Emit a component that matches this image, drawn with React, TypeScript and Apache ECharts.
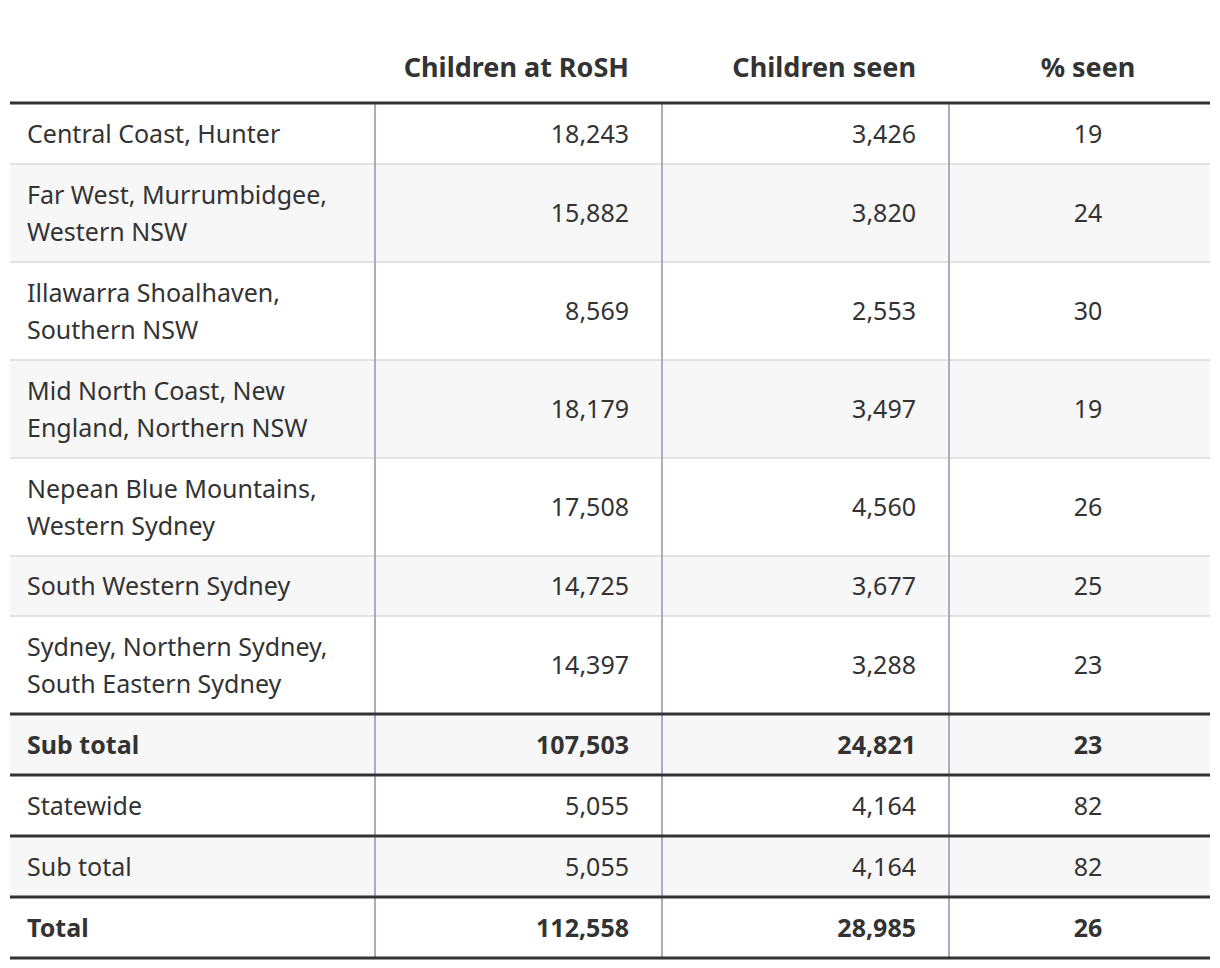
import React, { useEffect, useRef } from "react";
import * as echarts from "echarts";

const headers = ["", "Children at RoSH", "Children seen", "% seen"];
const rowLabels = [
  "Central Coast, Hunter",
  "Far West, Murrumbidgee,\nWestern NSW",
  "Illawarra Shoalhaven,\nSouthern NSW",
  "Mid North Coast, New\nEngland, Northern NSW",
  "Nepean Blue Mountains,\nWestern Sydney",
  "South Western Sydney",
  "Sydney, Northern Sydney,\nSouth Eastern Sydney",
  "Sub total",
  "Statewide",
  "Sub total",
  "Total",
];
const childrenAtRosh = [18243, 15882, 8569, 18179, 17508, 14725, 14397, 107503, 5055, 5055, 112558];
const childrenSeen = [3426, 3820, 2553, 3497, 4560, 3677, 3288, 24821, 4164, 4164, 28985];
const pctSeen = [19, 24, 30, 19, 26, 25, 23, 23, 82, 82, 26];
const boldRows = [false, false, false, false, false, false, false, true, false, false, true];
const summaryRows = [false, false, false, false, false, false, false, true, true, true, true];

const FONT = "'Noto Sans', Lato, sans-serif";
const fmt = (v: number) => v.toLocaleString("en-US");

export default function App() {
  const ref = useRef<HTMLDivElement>(null);
  useEffect(() => {
    if (!ref.current) return;
    const chart = echarts.init(ref.current, null, { renderer: "svg" });
    const left = 10;
    const right = 1210;
    const colX = [375, 662, 949];
    const headerLineY = 103;
    const textColor = "#333333";
    const els: any[] = [];

    const bounds: { y0: number; y1: number }[] = [];
    let y = 104;
    rowLabels.forEach((lab, i) => {
      const lines = lab.split("\n").length;
      const h = (lines - 1) * 38 + (summaryRows[i] ? 61 : 60);
      bounds.push({ y0: y, y1: y + h });
      y += h;
    });

    bounds.forEach((b, i) => {
      els.push({
        type: "rect",
        shape: { x: left, y: b.y0, width: right - left, height: b.y1 - b.y0 },
        style: { fill: i % 2 === 1 ? "#f7f7f7" : "#ffffff" },
        silent: true,
      });
    });

    bounds.forEach((b, i) => {
      if (i < bounds.length - 1) {
        const thick = summaryRows[i + 1] || summaryRows[i];
        if (!thick) {
          els.push({
            type: "line",
            shape: { x1: left, y1: b.y1, x2: right, y2: b.y1 },
            style: { stroke: "#e3e3e3", lineWidth: 2 },
            silent: true,
          });
        }
      }
    });

    const lastY = bounds[bounds.length - 1].y1;
    colX.forEach((x) => {
      els.push({
        type: "line",
        shape: { x1: x, y1: headerLineY, x2: x, y2: lastY },
        style: { stroke: "#a9acbc", lineWidth: 2 },
        silent: true,
      });
    });

    const thickYs = [headerLineY];
    bounds.forEach((b, i) => {
      if (summaryRows[i] || (i < bounds.length - 1 && summaryRows[i + 1])) thickYs.push(b.y1);
    });
    thickYs.forEach((ty) => {
      els.push({
        type: "line",
        shape: { x1: left, y1: ty, x2: right, y2: ty },
        style: { stroke: "#333333", lineWidth: 3 },
        silent: true,
      });
    });

    const cellRight = [0, 629, 916];
    const pctCenter = 1088;
    headers.forEach((h, c) => {
      if (!h) return;
      els.push({
        type: "text",
        style: {
          text: h,
          x: c === 3 ? pctCenter : cellRight[c],
          y: 66,
          align: c === 3 ? "center" : "right",
          verticalAlign: "middle",
          fontFamily: FONT,
          fontSize: 27,
          fontWeight: "bold",
          fill: textColor,
        },
      });
    });

    bounds.forEach((b, i) => {
      const cy = (b.y0 + b.y1) / 2 - 1;
      const fw = boldRows[i] ? "bold" : "normal";
      const base = {
        y: cy,
        verticalAlign: "middle",
        fontFamily: FONT,
        fontSize: 25,
        fontWeight: fw,
        fill: textColor,
        lineHeight: 37,
      };
      els.push({ type: "text", style: { ...base, text: rowLabels[i], x: 27, align: "left" } });
      els.push({ type: "text", style: { ...base, text: fmt(childrenAtRosh[i]), x: cellRight[1], align: "right" } });
      els.push({ type: "text", style: { ...base, text: fmt(childrenSeen[i]), x: cellRight[2], align: "right" } });
      els.push({ type: "text", style: { ...base, text: String(pctSeen[i]), x: pctCenter, align: "center" } });
    });

    chart.setOption({
      animation: false,
      backgroundColor: "#ffffff",
      graphic: { elements: els },
    });
    return () => chart.dispose();
  }, []);
  return (
    <div
      ref={ref}
      style={{ position: "fixed", left: 0, top: 0, width: 1220, height: 968 }}
    />
  );
}
